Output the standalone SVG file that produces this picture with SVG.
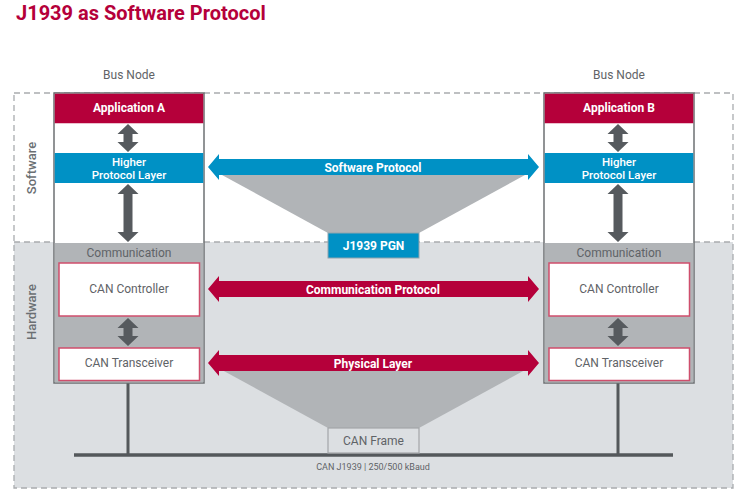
<svg xmlns="http://www.w3.org/2000/svg" width="746" height="499" viewBox="0 0 746 499">
<style>
text{font-family:Roboto,"Liberation Sans",sans-serif}
.title{font-size:20px;font-weight:bold;fill:#b5003a}
.lbl{font-size:12px;fill:#5f6367;text-anchor:middle}
.side{font-size:13px;font-weight:500;fill:#6b6f73;text-anchor:middle}
.wb{font-size:12px;font-weight:bold;fill:#fff;text-anchor:middle}
.wm{font-size:11.5px;font-weight:500;fill:#fff;text-anchor:middle}
.dash{fill:none;stroke:#a9acaf;stroke-width:1.3;stroke-dasharray:6 4}
.node{fill:#fff;stroke:#6d7073;stroke-width:1.5}
.comm{fill:#b1b4b7}
.red{fill:#b5003a}
.blue{fill:#0091c5}
.dark{fill:#565a5e}
.trap{fill:#b1b4b7}
.can{fill:#fff;stroke:#cf4e6c;stroke-width:1.5}
.stem{stroke:#54585b;stroke-width:3}
</style>
<text class="title" x="16" y="20">J1939 as Software Protocol</text>

<g id="layers">
<rect x="14" y="242" width="719" height="246" fill="#dcdfe2"/>
<rect class="dash" x="14" y="93" width="719" height="395"/>
<line class="dash" x1="14" y1="242" x2="733" y2="242"/>
<text class="side" transform="translate(36,168) rotate(-90)">Software</text>
<text class="side" transform="translate(36,312) rotate(-90)">Hardware</text>
</g>

<g id="bus">
<line class="stem" x1="128" y1="383" x2="128" y2="455"/>
<line class="stem" x1="618" y1="383" x2="618" y2="455"/>
<line x1="74" y1="455" x2="673" y2="455" stroke="#54585b" stroke-width="3.5"/>
<text x="373" y="470" font-size="9" fill="#5f6367" text-anchor="middle" style="font-family:Roboto,'Liberation Sans',sans-serif">CAN J1939 | 250/500 kBaud</text>
</g>

<g id="connectors">
<polygon class="trap" points="222,175 525,175 419,233 328,233"/>
<polygon class="trap" points="222,370 525,370 419,428 328,428"/>
<polygon class="blue" points="208,167 219,154 219,159 528,159 528,154 539,167 528,180 528,175 219,175 219,180"/>
<text class="wb" x="373" y="171.5">Software Protocol</text>
<polygon class="red" points="208,289 219,276 219,281 528,281 528,276 539,289 528,302 528,297 219,297 219,302"/>
<text class="wb" x="373" y="293.5">Communication Protocol</text>
<polygon class="red" points="208,363 219,350 219,355 528,355 528,350 539,363 528,376 528,371 219,371 219,376"/>
<text class="wb" x="373" y="367.5">Physical Layer</text>
</g>

<g id="pgn">
<rect x="328" y="233" width="91" height="25" fill="#0091c5" stroke="#8fa3ad" stroke-width="1"/>
<text class="wb" x="373.5" y="250">J1939 PGN</text>
</g>

<g id="frame">
<rect x="328" y="428" width="91" height="25" fill="#dcdfe2" stroke="#a3a6a9" stroke-width="1.2"/>
<text class="lbl" x="373.5" y="445">CAN Frame</text>
</g>

<g id="nodeA">
<text class="lbl" x="129" y="79">Bus Node</text>
<rect class="node" x="54" y="93" width="150" height="290"/>
<rect class="comm" x="54.75" y="243" width="148.5" height="139.25"/>
<rect class="red" x="54.75" y="93.75" width="148.5" height="29.5"/>
<text class="wb" x="129" y="111.5">Application A</text>
<rect class="blue" x="54.75" y="153" width="148.5" height="30"/>
<text class="wm" x="129" y="166">Higher</text>
<text class="wm" x="129" y="178.5">Protocol Layer</text>
<polygon class="dark" points="128,124 138.5,134 132.5,134 132.5,142 138.5,142 128,152 117.5,142 123.5,142 123.5,134 117.5,134"/>
<polygon class="dark" points="128,184 138.5,194 132.5,194 132.5,232 138.5,232 128,242 117.5,232 123.5,232 123.5,194 117.5,194"/>
<text class="lbl" x="129" y="256.5">Communication</text>
<rect class="can" x="59" y="263" width="140.5" height="53"/>
<text class="lbl" x="129" y="292.5">CAN Controller</text>
<polygon class="dark" points="128,318 138.5,328 132.5,328 132.5,336 138.5,336 128,346 117.5,336 123.5,336 123.5,328 117.5,328"/>
<rect class="can" x="59" y="348" width="140.5" height="32.5"/>
<text class="lbl" x="129" y="366.5">CAN Transceiver</text>
</g>

<g id="nodeB">
<text class="lbl" x="619" y="79">Bus Node</text>
<rect class="node" x="544" y="93" width="150" height="290"/>
<rect class="comm" x="544.75" y="243" width="148.5" height="139.25"/>
<rect class="red" x="544.75" y="93.75" width="148.5" height="29.5"/>
<text class="wb" x="619" y="111.5">Application B</text>
<rect class="blue" x="544.75" y="153" width="148.5" height="30"/>
<text class="wm" x="619" y="166">Higher</text>
<text class="wm" x="619" y="178.5">Protocol Layer</text>
<polygon class="dark" points="618,124 628.5,134 622.5,134 622.5,142 628.5,142 618,152 607.5,142 613.5,142 613.5,134 607.5,134"/>
<polygon class="dark" points="618,184 628.5,194 622.5,194 622.5,232 628.5,232 618,242 607.5,232 613.5,232 613.5,194 607.5,194"/>
<text class="lbl" x="619" y="256.5">Communication</text>
<rect class="can" x="549" y="263" width="140.5" height="53"/>
<text class="lbl" x="619" y="292.5">CAN Controller</text>
<polygon class="dark" points="618,318 628.5,328 622.5,328 622.5,336 628.5,336 618,346 607.5,336 613.5,336 613.5,328 607.5,328"/>
<rect class="can" x="549" y="348" width="140.5" height="32.5"/>
<text class="lbl" x="619" y="366.5">CAN Transceiver</text>
</g>
</svg>
